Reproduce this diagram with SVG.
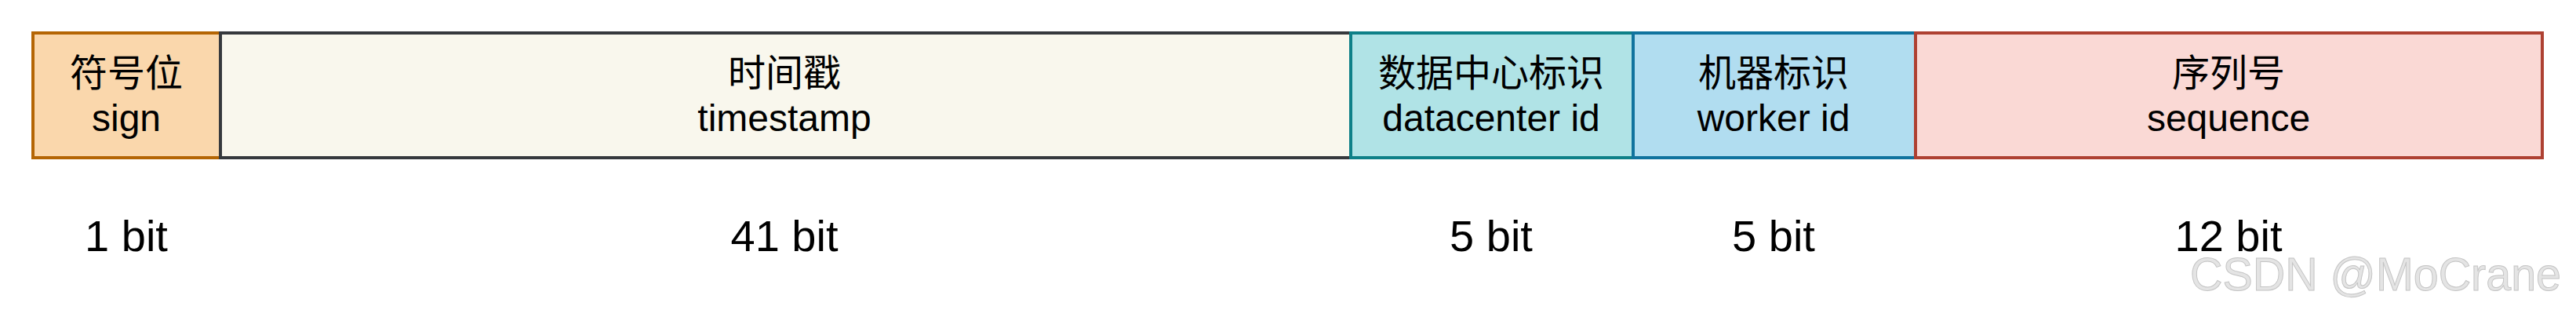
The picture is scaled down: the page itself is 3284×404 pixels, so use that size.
<svg xmlns="http://www.w3.org/2000/svg" width="3284" height="404" viewBox="0 0 3284 404">
<style>
  .box { stroke-width: 4; }
  .zh { font-family: "Noto Sans CJK SC", "Liberation Sans", sans-serif; font-size: 48px; fill: #000; text-anchor: middle; }
  .en { font-family: "Liberation Sans", Arial, sans-serif; font-size: 48px; fill: #000; text-anchor: middle; }
  .bit { font-family: "Liberation Sans", Arial, sans-serif; font-size: 56px; fill: #000; text-anchor: middle; }
  .wm { font-family: "Liberation Sans", Arial, sans-serif; font-size: 60px; fill: #e4e4e4; stroke: #c4c4c4; stroke-width: 1; }
</style>
<rect width="3284" height="404" fill="#ffffff"/>
<g id="connectors"></g>
<g id="sign">
  <rect class="box" x="42" y="42" width="239" height="159" fill="#fad7ac" stroke="#b46504"/>
  <text class="zh" x="161" y="110">符号位</text>
  <text class="en" x="161" y="167">sign</text>
  <text class="bit" x="161" y="320">1 bit</text>
</g>
<g id="timestamp">
  <rect class="box" x="281" y="42" width="1441" height="159" fill="#f9f7ed" stroke="#36393d"/>
  <text class="zh" x="1000" y="110">时间戳</text>
  <text class="en" x="1000" y="167">timestamp</text>
  <text class="bit" x="1000" y="320">41 bit</text>
</g>
<g id="datacenter">
  <rect class="box" x="1722" y="42" width="360" height="159" fill="#b0e3e6" stroke="#0e8088"/>
  <text class="zh" x="1901" y="110">数据中心标识</text>
  <text class="en" x="1901" y="167">datacenter id</text>
  <text class="bit" x="1901" y="320">5 bit</text>
</g>
<g id="worker">
  <rect class="box" x="2082" y="42" width="360" height="159" fill="#b1ddf0" stroke="#10739e"/>
  <text class="zh" x="2261" y="110">机器标识</text>
  <text class="en" x="2261" y="167">worker id</text>
  <text class="bit" x="2261" y="320">5 bit</text>
</g>
<g id="sequence">
  <rect class="box" x="2442" y="42" width="799" height="159" fill="#fad9d5" stroke="#ae4132"/>
  <text class="zh" x="2841" y="110">序列号</text>
  <text class="en" x="2841" y="167">sequence</text>
  <text class="bit" x="2841" y="320">12 bit</text>
</g>
<g id="watermark">
  <text class="wm" x="2792" y="370" textLength="473" lengthAdjust="spacingAndGlyphs">CSDN @MoCrane</text>
</g>
</svg>
